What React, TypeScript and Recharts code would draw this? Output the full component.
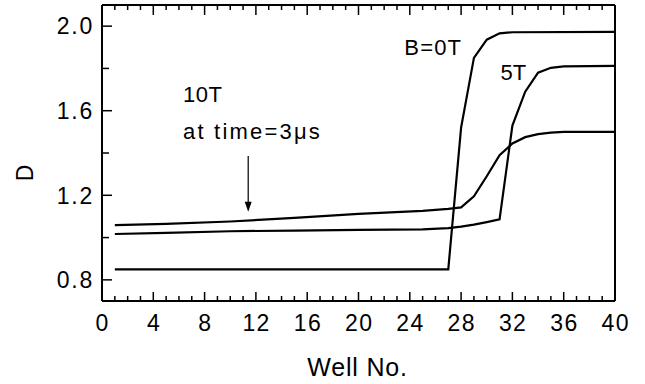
import { Label, Line, LineChart, ReferenceDot, ReferenceLine, XAxis, YAxis } from "recharts";

const FONT = "'Liberation Sans', Arial, Helvetica, sans-serif";
const PLOT_H = 296; // plot height, used to mirror the x ticks on the top frame

// well number ticks (minor every 1, labelled every 4)
const xTicks = Array.from({ length: 41 }, (_, i) => i);
const xLabels = [0, 4, 8, 12, 16, 20, 24, 28, 32, 36, 40];
const yTicks = [0.8, 1.0, 1.2, 1.4, 1.6, 1.8, 2.0];
const yLabels = [0.8, 1.2, 1.6, 2.0];

// B = 0T
const wellsB0 = [1, 27, 28, 29, 30, 31, 32, 40];
const dB0 = [0.85, 0.85, 1.52, 1.85, 1.936, 1.966, 1.971, 1.973];

// 5T
const wells5T = [1, 5, 10, 15, 20, 25, 27, 28, 29, 30, 31, 32, 33, 34, 35, 36, 40];
const d5T = [1.017, 1.022, 1.03, 1.033, 1.036, 1.039, 1.045, 1.052, 1.061, 1.073, 1.086, 1.53, 1.69, 1.78, 1.803, 1.81, 1.812];

// 10T
const wells10T = [1, 5, 10, 15, 20, 25, 27, 28, 29, 30, 31, 32, 33, 34, 35, 36, 40];
const d10T = [1.059, 1.065, 1.076, 1.093, 1.112, 1.126, 1.136, 1.143, 1.195, 1.29, 1.39, 1.445, 1.475, 1.489, 1.496, 1.5, 1.5];

const toPoints = (xs: number[], ys: number[]) => xs.map((w, i) => ({ well: w, d: ys[i] }));

const BottomTick = (props: any) => {
  const { x, y, payload } = props;
  const major = xLabels.includes(payload.value);
  const top = y - PLOT_H;
  return (
    <g>
      <line x1={x} y1={y} x2={x} y2={y - (major ? 9 : 5)} stroke="#000" strokeWidth={1.5} />
      <line x1={x} y1={top} x2={x} y2={top + (major ? 10 : 5)} stroke="#000" strokeWidth={1.5} />
      {major && (
        <text x={x + 0.7} y={y + 22} dy="0.36em" textAnchor="middle" fontSize={23} letterSpacing={1.4} fontFamily={FONT} fill="#000">
          {payload.value}
        </text>
      )}
    </g>
  );
};

const LeftTick = (props: any) => {
  const { x, y, payload } = props;
  const major = yLabels.some((v) => Math.abs(v - payload.value) < 1e-6);
  return (
    <g>
      <line x1={x} y1={y} x2={x + (major ? 10 : 7)} y2={y} stroke="#000" strokeWidth={1.5} />
      {major && (
        <text x={x - 8} y={y} dy="0.36em" textAnchor="end" fontSize={23} letterSpacing={1.8} fontFamily={FONT} fill="#000">
          {payload.value.toFixed(1)}
        </text>
      )}
    </g>
  );
};

const Arrow = (p: any) => {
  const { x1, y1, x2, y2 } = p;
  return (
    <g>
      <line x1={x1} y1={y1} x2={x2} y2={y2 - 9} stroke="#000" strokeWidth={1.2} />
      <polygon points={`${x2 - 3.5},${y2 - 10} ${x2 + 3.5},${y2 - 10} ${x2},${y2}`} fill="#000" />
    </g>
  );
};

const note = (text: string, anchor: "start" | "middle", spacing = 0) => (p: any) => (
  <text x={p.cx} y={p.cy} dy="0.36em" textAnchor={anchor} fontSize={22} letterSpacing={spacing} fontFamily={FONT} fill="#000">
    {text}
  </text>
);

export default function App() {
  const lineProps = {
    type: "linear" as const,
    dataKey: "d",
    stroke: "#000",
    strokeWidth: 2.2,
    dot: false,
    isAnimationActive: false,
  };
  const frame = { stroke: "#000", strokeWidth: 2, ifOverflow: "visible" as const };
  return (
    <div style={{ position: "absolute", left: 0, top: 0, width: 645, height: 384, background: "#fff" }}>
      <LineChart width={645} height={384} margin={{ top: 5, right: 30, bottom: 0, left: 0 }}>
        <XAxis dataKey="well" type="number" domain={[0, 40]} ticks={xTicks} interval={0} height={83} tickSize={0} tickMargin={0} tick={<BottomTick />} axisLine={false}>
          <Label
            content={(p: any) => (
              <text x={p.viewBox.x + p.viewBox.width / 2 - 1} y={p.viewBox.y + 66} dy="0.36em" textAnchor="middle" fontSize={25} letterSpacing={0.8} fontFamily={FONT} fill="#000">
                Well No.
              </text>
            )}
          />
        </XAxis>
        <YAxis type="number" domain={[0.7, 2.1]} allowDataOverflow ticks={yTicks} interval={0} width={102} tickSize={0} tickMargin={0} tick={<LeftTick />} axisLine={false}>
          <Label
            content={(p: any) => (
              <text x={p.viewBox.x + 25} y={p.viewBox.y + 168} dy="0.36em" textAnchor="middle" fontSize={23} fontFamily={FONT} fill="#000" transform={`rotate(-90 ${p.viewBox.x + 25} ${p.viewBox.y + 168})`}>
                D
              </text>
            )}
          />
        </YAxis>
        <ReferenceLine y={2.1} {...frame} />
        <ReferenceLine y={0.7} {...frame} />
        <ReferenceLine x={0} {...frame} />
        <ReferenceLine x={40} {...frame} />
        <Line {...lineProps} data={toPoints(wellsB0, dB0)} name="B=0T" />
        <Line {...lineProps} data={toPoints(wells5T, d5T)} name="5T" />
        <Line {...lineProps} data={toPoints(wells10T, d10T)} name="10T" />
        <ReferenceLine segment={[{ x: 11.4, y: 1.386 }, { x: 11.4, y: 1.122 }]} shape={Arrow} />
        <ReferenceDot x={25.83} y={1.899} r={0} shape={note("B=0T", "middle", 1.2)} />
        <ReferenceDot x={32.07} y={1.783} r={0} shape={note("5T", "middle")} />
        <ReferenceDot x={6.32} y={1.679} r={0} shape={note("10T", "start", 0.5)} />
        <ReferenceDot x={6.32} y={1.506} r={0} shape={note("at time=3\u03bcs", "start", 2.2)} />
      </LineChart>
    </div>
  );
}
